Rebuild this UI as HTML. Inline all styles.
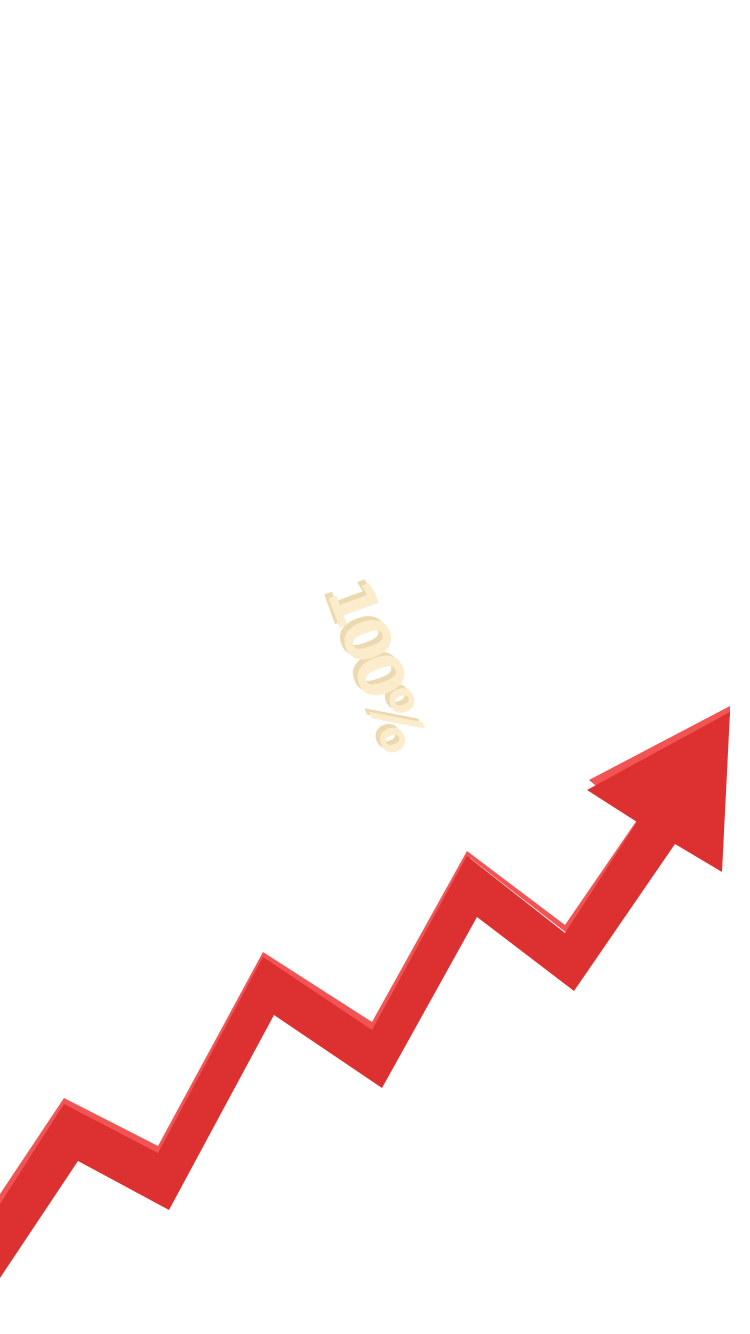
<!DOCTYPE html>
<html><head><meta charset="utf-8"><style>
html,body{margin:0;padding:0;background:#fff;width:750px;height:1334px;overflow:hidden}
.t{position:absolute;left:290px;top:628px;font:bold 62px "DejaVu Sans","Noto Sans CJK SC",sans-serif;color:#fbeccb;text-shadow:-5px 3px 0 #ecd9b0;transform:rotate(70deg);transform-origin:center;white-space:nowrap;letter-spacing:-5px}
</style></head><body>
<div class="t">100%</div>
<svg width="750" height="1334" style="position:absolute;left:0;top:0">
<polygon fill="#f25454" points="0,1194 64,1098 158,1146 263,952 372,1022 467,851 565,925 637,820 589,780 730,706 730,716 640,826 568,934 470,858 375,1034 265,962 160,1156 66,1108 0,1210"/>
<polygon fill="#dd3030" points="0,1204 64,1104 158,1153 263,957 372,1030 467,856 565,933 637,822 587,790 730,712 722,872 675,844 574,991 477,917 382,1088 274,1015 169,1210 78,1161 0,1278"/>
</svg>
</body></html>
